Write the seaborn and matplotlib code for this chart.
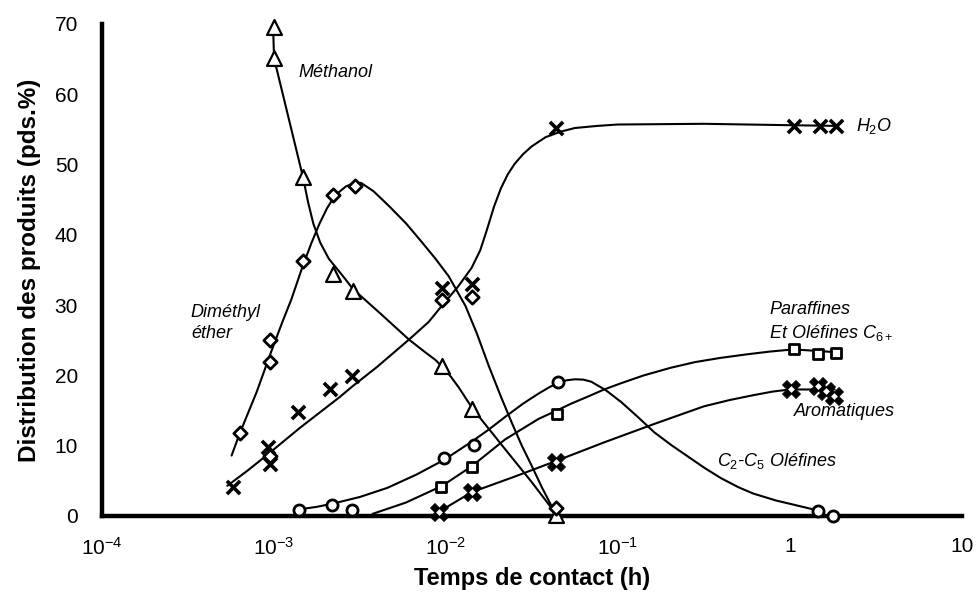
import matplotlib
matplotlib.use("Agg")
import matplotlib.pyplot as plt
import numpy as np
import pandas as pd
import seaborn as sns
from matplotlib.ticker import FixedLocator, NullLocator, FixedFormatter

# ---------------- data ----------------
methanol_t = [1.0e-3, 1.0e-3, 1.48e-3, 2.2e-3, 2.9e-3, 9.5e-3, 1.42e-2, 4.35e-2]
methanol_y = [69.6, 65.1, 48.3, 34.4, 32.0, 21.4, 15.2, 0.2]

dme_t = [6.35e-4, 9.5e-4, 9.5e-4, 9.5e-4, 1.48e-3, 2.2e-3, 2.95e-3, 9.5e-3, 1.42e-2, 4.35e-2]
dme_y = [11.8, 25.0, 21.9, 8.6, 36.3, 45.7, 47.0, 30.8, 31.2, 1.1]

h2o_t = [5.8e-4, 9.3e-4, 9.5e-4, 1.38e-3, 2.12e-3, 2.85e-3, 9.5e-3, 1.42e-2, 4.36e-2, 1.05, 1.5, 1.85]
h2o_y = [4.1, 9.75, 7.4, 14.8, 18.1, 19.9, 32.5, 33.0, 55.2, 55.5, 55.5, 55.5]

olef_t = [1.41e-3, 2.18e-3, 2.86e-3, 9.8e-3, 1.45e-2, 4.46e-2, 1.46, 1.78]
olef_y = [0.85, 1.5, 0.85, 8.3, 10.1, 19.0, 0.75, 0.0]

par_t = [9.4e-3, 1.42e-2, 4.4e-2, 1.05, 1.46, 1.85]
par_y = [4.1, 7.0, 14.5, 23.8, 23.0, 23.2]

arom_t = [9.1e-3, 1.42e-2, 4.35e-2, 1.01, 1.46, 1.62, 1.8]
arom_y = [0.6, 3.4, 7.7, 18.0, 18.5, 17.8, 17.1]

# smoothed trend curves as drawn in the reference (log10 of time, value)
methanol_curve_logt = [-3.004, -2.998, -2.831, -2.80, -2.77, -2.73, -2.68, -2.62, -2.584, -2.54,
                       -2.38, -2.214, -2.12, -2.06, -2.02, -1.97, -1.925, -1.848, -1.75,
                       -1.655, -1.5, -1.366]
methanol_curve_y = [69.6, 65.1, 48.3, 44.6, 41.6, 38.9, 36.6, 34.8, 33.7, 32.3,
                    28.8, 25.1, 23.3, 22.2, 21.2, 19.8, 18.3, 15.4, 12.4,
                    9.5, 4.8, 0.5]

dme_curve_logt = [-3.245, -3.197, -3.10, -3.013, -2.95, -2.898, -2.831, -2.78, -2.734, -2.69,
                  -2.657, -2.62, -2.58, -2.54, -2.493, -2.42, -2.33, -2.23, -2.137, -2.06,
                  -1.983, -1.886, -1.82, -1.751, -1.68, -1.617, -1.56, -1.5, -1.44, -1.385, -1.362]
dme_curve_y = [8.6, 11.8, 17.6, 23.5, 27.6, 30.8, 35.6, 38.9, 41.6, 43.8,
               45.1, 46.1, 46.9, 47.3, 47.4, 46.2, 44.1, 41.6, 38.9, 36.6,
               34.1, 29.9, 26.0, 21.4, 17.0, 13.3, 10.1, 7.1, 4.0, 1.4, 1.0]

h2o_curve_logt = [-3.27, -3.15, -3.033, -2.85, -2.618, -2.54, -2.4, -2.214, -2.1, -2.02,
                  -1.93, -1.85, -1.80, -1.76, -1.72, -1.68, -1.64, -1.60, -1.55, -1.50,
                  -1.42, -1.33, -1.25, -1.12, -1.0, -0.5, 0.0, 0.28]
h2o_curve_y = [4.3, 6.5, 8.8, 12.5, 16.9, 18.5, 21.2, 25.1, 27.6, 30.0,
               32.6, 35.3, 37.8, 40.8, 44.0, 46.6, 48.6, 50.1, 51.5, 52.6,
               53.9, 54.7, 55.2, 55.5, 55.7, 55.8, 55.6, 55.5]

olef_curve_logt = [-2.85, -2.75, -2.65, -2.5, -2.34, -2.17, -2.009, -1.848, -1.75, -1.655,
                   -1.55, -1.462, -1.40, -1.351, -1.30, -1.25, -1.20, -1.154, -1.07, -0.98,
                   -0.88, -0.788, -0.69, -0.595, -0.5, -0.402, -0.3, -0.214, -0.08, 0.04, 0.16]
olef_curve_y = [0.95, 1.3, 1.8, 2.7, 4.0, 5.9, 8.0, 10.6, 12.3, 14.1,
                16.0, 17.4, 18.3, 18.9, 19.3, 19.45, 19.4, 19.1, 17.9, 16.2,
                14.0, 11.9, 10.1, 8.5, 6.9, 5.4, 4.1, 3.2, 2.2, 1.5, 0.8]

par_curve_logt = [-2.426, -2.233, -2.02, -1.848, -1.655, -1.462, -1.356, -1.27, -1.173, -1.08,
                  -0.98, -0.85, -0.691, -0.55, -0.402, -0.25, -0.114, 0.02, 0.15, 0.27]
par_curve_y = [0.3, 1.9, 4.3, 7.1, 10.9, 13.8, 15.0, 16.0, 17.0, 18.0,
               18.9, 20.0, 21.1, 21.9, 22.5, 23.0, 23.4, 23.7, 23.5, 23.3]

arom_curve_logt = [-2.08, -2.04, -1.848, -1.6, -1.362, -1.077, -0.788, -0.5, -0.35, -0.21,
                   -0.1, 0.0, 0.26]
arom_curve_y = [0.0, 0.6, 3.4, 5.6, 7.8, 10.5, 13.1, 15.6, 16.5, 17.2,
                17.7, 18.0, 18.0]

x_ticks = [1e-4, 1e-3, 1e-2, 1e-1, 1, 10]
x_ticklabels = [r"$10^{-4}$", r"$10^{-3}$", r"$10^{-2}$", r"$10^{-1}$", "1", "10"]
y_ticks = [0, 10, 20, 30, 40, 50, 60, 70]

# ---------------- style ----------------
sns.set_theme(style="white")
plt.rcParams["font.family"] = ["Liberation Sans", "DejaVu Sans"]
plt.rcParams["mathtext.fontset"] = "custom"
plt.rcParams["mathtext.rm"] = "Liberation Sans"
plt.rcParams["mathtext.it"] = "Liberation Sans:italic"
plt.rcParams["mathtext.default"] = "regular"
plt.rcParams["text.color"] = "black"
plt.rcParams["axes.labelcolor"] = "black"

fig = plt.figure(figsize=(9.77, 5.97), dpi=100)
ax = fig.add_axes([0.1041, 0.1357, 0.8805, 0.8241])
ax.set_xscale("log")

# ---------------- curves ----------------
curves = [
    (methanol_curve_logt, methanol_curve_y),
    (dme_curve_logt, dme_curve_y),
    (h2o_curve_logt, h2o_curve_y),
    (olef_curve_logt, olef_curve_y),
    (par_curve_logt, par_curve_y),
    (arom_curve_logt, arom_curve_y),
]
for lt, yy in curves:
    df = pd.DataFrame({"t": np.power(10.0, lt), "y": yy})
    sns.lineplot(data=df, x="t", y="y", sort=False, estimator=None,
                 color="black", linewidth=1.5, ax=ax, zorder=2)

# ---------------- markers ----------------
def pts(t, y):
    return pd.DataFrame({"t": t, "y": y})

sc_kw = dict(ax=ax, zorder=3, clip_on=False, legend=False)
sns.scatterplot(data=pts(methanol_t, methanol_y), x="t", y="y", marker="^", s=115,
                facecolor="white", edgecolor="black", linewidth=1.6, **sc_kw)
sns.scatterplot(data=pts(dme_t, dme_y), x="t", y="y", marker="D", s=46,
                facecolor="white", edgecolor="black", linewidth=2.0, **sc_kw)
sns.scatterplot(data=pts(h2o_t, h2o_y), x="t", y="y", marker="x", s=90,
                color="black", linewidth=2.6, **sc_kw)
sns.scatterplot(data=pts(olef_t, olef_y), x="t", y="y", marker="o", s=64,
                facecolor="white", edgecolor="black", linewidth=2.0, **sc_kw)
sns.scatterplot(data=pts(par_t, par_y), x="t", y="y", marker="s", s=62,
                facecolor="white", edgecolor="black", linewidth=2.0, **sc_kw)
sns.scatterplot(data=pts(arom_t, arom_y), x="t", y="y", marker="X", s=170,
                color="black", edgecolor="black", linewidth=0.5, **sc_kw)
sns.scatterplot(data=pts(arom_t, arom_y), x="t", y="y", marker="D", s=12,
                color="white", edgecolor="white", linewidth=0, ax=ax, zorder=4,
                clip_on=False, legend=False)

# ---------------- axes ----------------
ax.set_xlim(1e-4, 10)
ax.set_ylim(0, 70)
ax.xaxis.set_major_locator(FixedLocator(x_ticks))
ax.xaxis.set_major_formatter(FixedFormatter(x_ticklabels))
ax.xaxis.set_minor_locator(NullLocator())
ax.set_yticks(y_ticks)
for side in ["top", "right"]:
    ax.spines[side].set_visible(False)
for side in ["left", "bottom"]:
    ax.spines[side].set_linewidth(3.2)
    ax.spines[side].set_color("black")
    ax.spines[side].set_zorder(2.5)
ax.tick_params(axis="both", which="major", direction="out", length=7, width=3.0,
               color="black", labelsize=15, labelcolor="black")
ax.tick_params(axis="x", pad=8)
ax.tick_params(axis="y", pad=10)
ax.set_xlabel("Temps de contact (h)", fontsize=17, fontweight="bold", labelpad=6)
ax.set_ylabel("Distribution des produits (pds.%)", fontsize=17.5, fontweight="bold",
              labelpad=10)
ax.grid(False)

# ---------------- annotations ----------------
ann_kw = dict(fontsize=13, fontstyle="italic", color="black", va="center", ha="left")
ax.text(1.4e-3, 63.1, "Méthanol", **ann_kw)
ax.text(3.3e-4, 29.0, "Diméthyl", **ann_kw)
ax.text(3.3e-4, 26.0, "éther", **ann_kw)
ax.text(2.42, 55.5, r"$\mathit{H_2O}$", **ann_kw)
ax.text(0.76, 29.4, "Paraffines", **ann_kw)
ax.text(0.76, 26.1, r"Et Oléfines $\mathit{C_{6+}}$", **ann_kw)
ax.text(1.05, 14.8, "Aromatiques", **ann_kw)
ax.text(0.375, 7.8, r"$\mathit{C_2}$-$\mathit{C_5}$ Oléfines", **ann_kw)

fig.savefig("out.png", dpi=100)
